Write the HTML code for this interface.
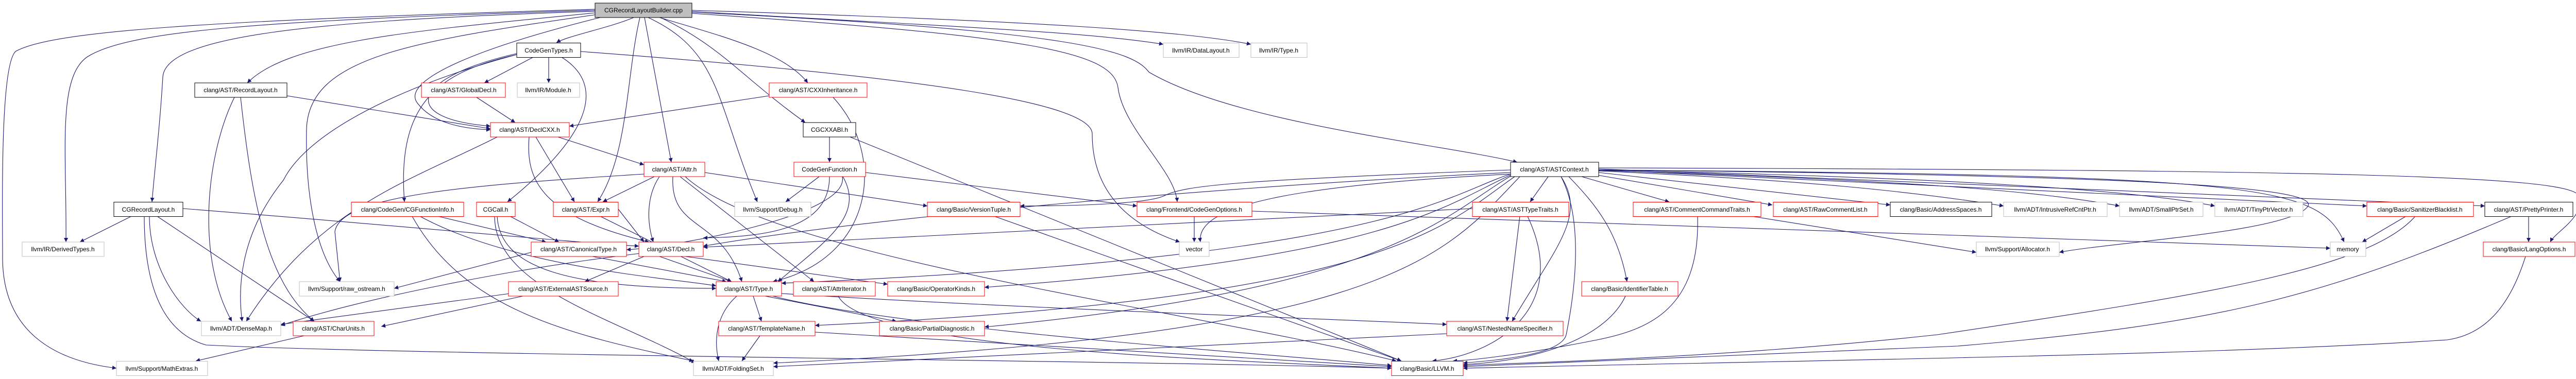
<!DOCTYPE html>
<html><head><meta charset="utf-8"><style>
html,body{margin:0;padding:0;background:#fff;}
svg{display:block;}
text{font-family:"Liberation Sans",sans-serif;font-size:12px;fill:#000;}
.e{fill:none;stroke:#191970;stroke-width:1.1;}
.r{fill:#fff;stroke:#ff0000;stroke-width:1;}
.b{fill:#fff;stroke:#000;stroke-width:1;}
.g{fill:#fff;stroke:#bfbfbf;stroke-width:1;}
</style></head><body>
<svg width="5023" height="736" viewBox="0 0 5023 736" xmlns="http://www.w3.org/2000/svg">
<defs><marker id="a" viewBox="0 0 10 10" refX="10" refY="5" markerWidth="10" markerHeight="8" orient="auto" markerUnits="userSpaceOnUse"><path d="M0,0 L10,5 L0,10 z" fill="#191970"/></marker></defs>
<g class="e" marker-end="url(#a)">
<path d="M1230 34 C1180 55 1100 70 1080 83"/>
<path d="M1155 25 C800 60 560 80 480 161"/>
<path d="M1155 22 C600 40 320 70 316 150 C310 250 300 330 295 392"/>
<path d="M1155 20 C500 40 250 60 170 110 C110 150 130 300 128 470"/>
<path d="M1155 18 C400 40 100 60 30 100 C0 130 5 400 5 500 C5 640 100 700 226 715"/>
<path d="M1160 28 C800 80 600 110 595 250 C592 400 620 500 660 547"/>
<path d="M1165 34 C900 100 780 160 810 200 C840 240 900 250 952 252"/>
<path d="M1242 34 C1215 150 1220 300 1160 392"/>
<path d="M1251 34 L1303 315"/>
<path d="M1280 34 C1400 70 1520 100 1568 161"/>
<path d="M1282 34 C1400 90 1440 150 1563 238"/>
<path d="M1258 34 C1400 100 1390 200 1470 392"/>
<path d="M1343 22 C1800 50 2100 60 2258 86"/>
<path d="M1343 20 C2000 40 2300 60 2428 86"/>
<path d="M1343 26 C2000 70 2160 100 2170 170 C2180 250 2280 330 2285 392"/>
<path d="M1343 24 C2100 60 2200 100 2230 140 C2400 240 2800 280 2945 315"/>
<path d="M1127 100 C1800 150 2120 200 2120 260 C2120 380 2200 440 2290 470"/>
<path d="M1035 111 L940 161"/>
<path d="M1065 111 L1065 161"/>
<path d="M1003 104 C800 150 770 230 952 245"/>
<path d="M1003 106 C850 140 770 200 785 392"/>
<path d="M1090 111 C1200 180 1100 300 985 392"/>
<path d="M1003 106 C800 160 600 250 550 350 C470 450 460 550 470 624"/>
<path d="M557 186 L952 250"/>
<path d="M455 189 C400 300 380 500 450 624"/>
<path d="M467 189 C490 400 520 550 610 624"/>
<path d="M925 189 L1000 238"/>
<path d="M1493 186 L1105 245"/>
<path d="M1617 189 C1720 300 1700 500 1500 547"/>
<path d="M1083 266 L1250 320"/>
<path d="M1040 266 L1115 392"/>
<path d="M1027 266 C1020 350 1050 420 1260 470"/>
<path d="M965 266 C800 350 620 400 478 624"/>
<path d="M1610 266 L1610 315"/>
<path d="M1650 266 L2720 701"/>
<path d="M1280 343 C1255 380 1255 430 1268 470"/>
<path d="M1306 343 C1300 450 1400 420 1440 547"/>
<path d="M1320 343 L1580 547"/>
<path d="M1368 335 L1800 400"/>
<path d="M1250 338 C900 360 660 380 650 450 L660 547"/>
<path d="M1270 343 L1170 392"/>
<path d="M1330 343 C1500 500 2300 600 2710 701"/>
<path d="M1590 343 L1525 392"/>
<path d="M1680 335 L2207 400"/>
<path d="M1610 343 C1610 440 1500 460 1365 462"/>
<path d="M1636 343 C1680 420 1600 470 1510 547"/>
<path d="M1635 343 C1650 420 1300 480 1216 485"/>
<path d="M255 420 L155 470"/>
<path d="M290 420 C290 520 350 600 390 624"/>
<path d="M305 420 L610 624"/>
<path d="M355 405 C800 440 1100 470 1240 478"/>
<path d="M280 420 C280 580 330 650 400 670 C800 690 2200 700 2701 715"/>
<path d="M850 420 L1060 470"/>
<path d="M815 420 C1000 520 1300 540 1390 555"/>
<path d="M800 420 C900 600 1100 650 1346 701"/>
<path d="M990 420 L1085 470"/>
<path d="M965 420 C970 520 1100 560 1390 560"/>
<path d="M960 420 C960 560 1200 620 1350 705"/>
<path d="M1200 406 L1250 470"/>
<path d="M1165 420 L1420 547"/>
<path d="M1150 498 L1410 547"/>
<path d="M1031 490 L765 560"/>
<path d="M1280 498 L1420 547"/>
<path d="M1250 498 L1135 547"/>
<path d="M1330 498 L1723 552"/>
<path d="M1260 490 C1000 520 700 580 545 632"/>
<path d="M1015 575 L740 634"/>
<path d="M990 570 L545 630"/>
<path d="M590 652 L380 701"/>
<path d="M1462 575 L1478 624"/>
<path d="M1485 575 L1740 624"/>
<path d="M1430 575 C1380 620 1390 680 1395 701"/>
<path d="M1500 575 C1750 640 2500 690 2701 710"/>
<path d="M1517 570 C2000 600 2600 620 2808 630"/>
<path d="M1475 652 L1440 701"/>
<path d="M1582 645 L2701 712"/>
<path d="M1627 575 C1680 680 2400 700 2701 715"/>
<path d="M1930 420 L2720 701"/>
<path d="M2318 420 L2318 470"/>
<path d="M2430 410 L4523 482"/>
<path d="M3005 343 L2970 392"/>
<path d="M3070 343 L3240 392"/>
<path d="M3100 340 L3440 398"/>
<path d="M3103 335 L3669 398"/>
<path d="M3103 332 C3500 350 3700 370 3889 400"/>
<path d="M3103 331 C3700 350 3950 370 4114 400"/>
<path d="M3103 330 C3800 345 4150 370 4299 400"/>
<path d="M3103 330 L4594 400"/>
<path d="M3103 328 L4823 400"/>
<path d="M3103 326 C4500 330 4990 340 5005 380 C5020 420 4960 450 4950 470"/>
<path d="M3103 330 C4400 340 4500 360 4550 470"/>
<path d="M3103 330 C4100 340 4500 360 4480 400 C4450 450 4100 470 3997 490"/>
<path d="M3045 343 C3100 400 3140 450 3158 547"/>
<path d="M3030 343 C3080 420 3020 480 2935 624"/>
<path d="M3030 343 C3080 440 3050 600 3040 650 C3030 690 2900 700 2840 705"/>
<path d="M2932 330 C2400 350 2300 360 2260 380 C2230 395 2100 400 1980 400"/>
<path d="M2932 335 C2400 360 1700 420 1365 478"/>
<path d="M2932 338 C2800 380 2700 500 1517 550"/>
<path d="M2932 340 C2800 400 2700 500 1911 558"/>
<path d="M2932 342 C2800 420 2700 560 1911 635"/>
<path d="M2940 343 C2800 440 2700 580 1582 632"/>
<path d="M2950 343 C2800 500 2700 650 1501 705"/>
<path d="M2932 338 C2500 360 2320 400 2330 470"/>
<path d="M2950 420 L2925 624"/>
<path d="M2965 420 C3050 600 2900 690 2780 701"/>
<path d="M2858 405 L1365 480"/>
<path d="M3295 420 C3300 600 3200 640 3100 660 C2950 690 2850 700 2820 701"/>
<path d="M3400 420 L3836 490"/>
<path d="M3155 575 C3120 650 3000 700 2840 708"/>
<path d="M4670 420 L4585 470"/>
<path d="M4688 420 C4600 520 4300 570 3760 650 C3300 700 2900 705 2840 710"/>
<path d="M4908 420 L4908 470"/>
<path d="M4875 420 C4500 580 4300 630 3800 672 L2840 712"/>
<path d="M4902 498 C4870 600 4820 650 4750 660 C4300 690 3500 700 2840 715"/>
<path d="M2808 648 L1501 712"/>
</g>
<g>
<rect x="1155" y="6" width="188" height="28" fill="#bfbfbf" stroke="#000"/><text x="1249" y="24" text-anchor="middle">CGRecordLayoutBuilder.cpp</text>
<rect class="b" x="1003" y="83.5" width="124" height="28"/><text x="1065" y="102" text-anchor="middle">CodeGenTypes.h</text>
<rect class="g" x="2258" y="83.5" width="147" height="28"/><text x="2331" y="102" text-anchor="middle">llvm/IR/DataLayout.h</text>
<rect class="g" x="2428" y="83.5" width="109" height="28"/><text x="2482" y="102" text-anchor="middle">llvm/IR/Type.h</text>
<rect class="b" x="378" y="161" width="179" height="28"/><text x="467" y="179" text-anchor="middle">clang/AST/RecordLayout.h</text>
<rect class="r" x="818" y="161" width="163" height="28"/><text x="900" y="179" text-anchor="middle">clang/AST/GlobalDecl.h</text>
<rect class="g" x="1004" y="161" width="121" height="28"/><text x="1064" y="179" text-anchor="middle">llvm/IR/Module.h</text>
<rect class="r" x="1493" y="161" width="190" height="28"/><text x="1588" y="179" text-anchor="middle">clang/AST/CXXInheritance.h</text>
<rect class="r" x="952" y="238" width="153" height="28"/><text x="1028" y="256" text-anchor="middle">clang/AST/DeclCXX.h</text>
<rect class="b" x="1559" y="238" width="102" height="28"/><text x="1610" y="256" text-anchor="middle">CGCXXABI.h</text>
<rect class="r" x="1250" y="315" width="118" height="28"/><text x="1309" y="333" text-anchor="middle">clang/AST/Attr.h</text>
<rect class="r" x="1541" y="315" width="139" height="28"/><text x="1610" y="333" text-anchor="middle">CodeGenFunction.h</text>
<rect class="b" x="2932" y="315" width="171" height="28"/><text x="3017" y="333" text-anchor="middle">clang/AST/ASTContext.h</text>
<rect class="b" x="221" y="392.5" width="134" height="28"/><text x="288" y="411" text-anchor="middle">CGRecordLayout.h</text>
<rect class="r" x="682" y="392.5" width="218" height="28"/><text x="791" y="411" text-anchor="middle">clang/CodeGen/CGFunctionInfo.h</text>
<rect class="r" x="925" y="392.5" width="75" height="28"/><text x="962" y="411" text-anchor="middle">CGCall.h</text>
<rect class="r" x="1074" y="392.5" width="126" height="28"/><text x="1137" y="411" text-anchor="middle">clang/AST/Expr.h</text>
<rect class="g" x="1426" y="392.5" width="148" height="28"/><text x="1500" y="411" text-anchor="middle">llvm/Support/Debug.h</text>
<rect class="r" x="1800" y="392.5" width="180" height="28"/><text x="1890" y="411" text-anchor="middle">clang/Basic/VersionTuple.h</text>
<rect class="r" x="2207" y="392.5" width="223" height="28"/><text x="2318" y="411" text-anchor="middle">clang/Frontend/CodeGenOptions.h</text>
<rect class="r" x="2858" y="392.5" width="187" height="28"/><text x="2951" y="411" text-anchor="middle">clang/AST/ASTTypeTraits.h</text>
<rect class="r" x="3170" y="392.5" width="248" height="28"/><text x="3294" y="411" text-anchor="middle">clang/AST/CommentCommandTraits.h</text>
<rect class="r" x="3442" y="392.5" width="203" height="28"/><text x="3543" y="411" text-anchor="middle">clang/AST/RawCommentList.h</text>
<rect class="b" x="3669" y="392.5" width="197" height="28"/><text x="3767" y="411" text-anchor="middle">clang/Basic/AddressSpaces.h</text>
<rect class="g" x="3889" y="392.5" width="201" height="28"/><text x="3989" y="411" text-anchor="middle">llvm/ADT/IntrusiveRefCntPtr.h</text>
<rect class="g" x="4114" y="392.5" width="162" height="28"/><text x="4195" y="411" text-anchor="middle">llvm/ADT/SmallPtrSet.h</text>
<rect class="g" x="4299" y="392.5" width="171" height="28"/><text x="4384" y="411" text-anchor="middle">llvm/ADT/TinyPtrVector.h</text>
<rect class="r" x="4594" y="392.5" width="207" height="28"/><text x="4697" y="411" text-anchor="middle">clang/Basic/SanitizerBlacklist.h</text>
<rect class="b" x="4823" y="392.5" width="171" height="28"/><text x="4908" y="411" text-anchor="middle">clang/AST/PrettyPrinter.h</text>
<rect class="g" x="43" y="470" width="159" height="28"/><text x="122" y="488" text-anchor="middle">llvm/IR/DerivedTypes.h</text>
<rect class="r" x="1031" y="470" width="185" height="28"/><text x="1123" y="488" text-anchor="middle">clang/AST/CanonicalType.h</text>
<rect class="r" x="1240" y="470" width="125" height="28"/><text x="1302" y="488" text-anchor="middle">clang/AST/Decl.h</text>
<rect class="g" x="2289" y="470" width="58" height="28"/><text x="2318" y="488" text-anchor="middle">vector</text>
<rect class="g" x="3836" y="470" width="161" height="28"/><text x="3916" y="488" text-anchor="middle">llvm/Support/Allocator.h</text>
<rect class="g" x="4523" y="470" width="69" height="28"/><text x="4557" y="488" text-anchor="middle">memory</text>
<rect class="r" x="4820" y="470" width="178" height="28"/><text x="4909" y="488" text-anchor="middle">clang/Basic/LangOptions.h</text>
<rect class="g" x="581" y="547" width="184" height="28"/><text x="673" y="565" text-anchor="middle">llvm/Support/raw_ostream.h</text>
<rect class="r" x="987" y="547" width="213" height="28"/><text x="1093" y="565" text-anchor="middle">clang/AST/ExternalASTSource.h</text>
<rect class="r" x="1390" y="547" width="127" height="28"/><text x="1453" y="565" text-anchor="middle">clang/AST/Type.h</text>
<rect class="r" x="1540" y="547" width="159" height="28"/><text x="1619" y="565" text-anchor="middle">clang/AST/AttrIterator.h</text>
<rect class="r" x="1723" y="547" width="188" height="28"/><text x="1817" y="565" text-anchor="middle">clang/Basic/OperatorKinds.h</text>
<rect class="r" x="3070" y="547" width="187" height="28"/><text x="3163" y="565" text-anchor="middle">clang/Basic/IdentifierTable.h</text>
<rect class="g" x="391" y="624" width="154" height="28"/><text x="468" y="642" text-anchor="middle">llvm/ADT/DenseMap.h</text>
<rect class="r" x="569" y="624" width="157" height="28"/><text x="647" y="642" text-anchor="middle">clang/AST/CharUnits.h</text>
<rect class="r" x="1395" y="624" width="187" height="28"/><text x="1488" y="642" text-anchor="middle">clang/AST/TemplateName.h</text>
<rect class="r" x="1707" y="624" width="204" height="28"/><text x="1809" y="642" text-anchor="middle">clang/Basic/PartialDiagnostic.h</text>
<rect class="r" x="2808" y="624" width="226" height="28"/><text x="2921" y="642" text-anchor="middle">clang/AST/NestedNameSpecifier.h</text>
<rect class="g" x="226" y="701.5" width="177" height="28"/><text x="314" y="720" text-anchor="middle">llvm/Support/MathExtras.h</text>
<rect class="g" x="1346" y="701.5" width="155" height="28"/><text x="1423" y="720" text-anchor="middle">llvm/ADT/FoldingSet.h</text>
<rect class="r" x="2701" y="701.5" width="139" height="28"/><text x="2770" y="720" text-anchor="middle">clang/Basic/LLVM.h</text>
</g>
</svg>
</body></html>
